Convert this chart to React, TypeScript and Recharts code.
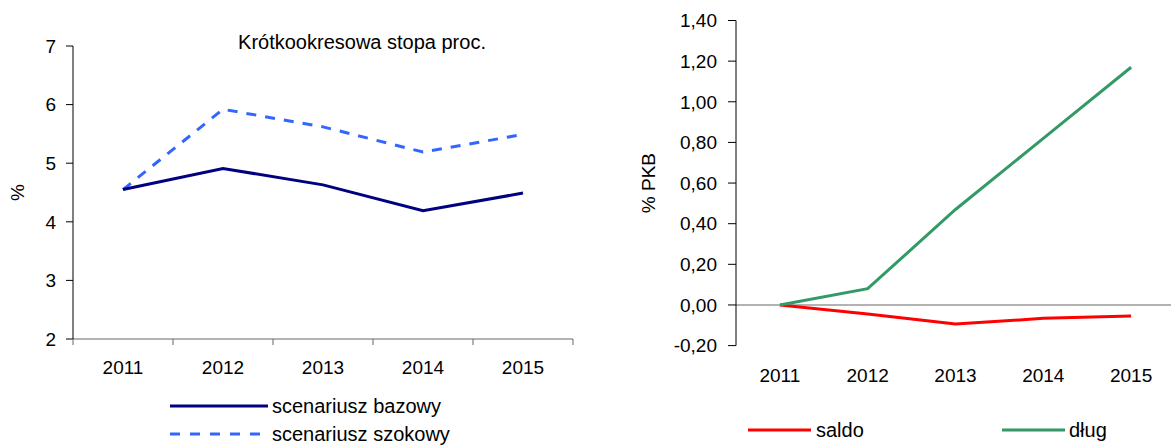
import React from 'react';
import { LineChart, Line, XAxis, YAxis } from 'recharts';

const YEARS = ['2011', '2012', '2013', '2014', '2015'];

// left panel: short-term interest rate, %
const BAZOWY = [4.55, 4.91, 4.63, 4.19, 4.49];
const SZOKOWY = [4.55, 5.92, 5.62, 5.19, 5.49];
const RATE_TICKS = [2, 3, 4, 5, 6, 7];

// right panel: % PKB
const SALDO = [0, -0.045, -0.094, -0.066, -0.054];
const DLUG = [0, 0.08, 0.47, 0.82, 1.17];
const PKB_TICKS = [-0.2, 0, 0.2, 0.4, 0.6, 0.8, 1.0, 1.2, 1.4];

const rateData = YEARS.map((year, i) => ({ i, year, bazowy: BAZOWY[i], szokowy: SZOKOWY[i] }));
const pkbData = YEARS.map((year, i) => ({ i, year, saldo: SALDO[i], dlug: DLUG[i] }));

// half steps are the category borders (tick marks), whole steps carry the year labels
const BORDERS = YEARS.map((_, i) => i - 0.5).concat(YEARS.length - 0.5);
const CENTERS = YEARS.map((_, i) => i);
const X_DOMAIN: [number, number] = [-0.5, YEARS.length - 0.5];

const NAVY = '#000080';
const LIGHT_BLUE = '#3366FF';
const RED = '#FF0000';
const GREEN = '#339966';
const AXIS_GREY = '#666666';
const FONT = 19;
const TEXT_FONT = 20;

const fmtPkb = (v: number) => v.toFixed(2).replace('.', ',');

function YearTick(props: any) {
  const { x, y, payload, labelOffset } = props;
  const v = payload.value;
  if (!Number.isInteger(v)) {
    return <line x1={x} x2={x} y1={y} y2={y + 6} stroke={AXIS_GREY} />;
  }
  return (
    <text x={x} y={y + labelOffset} textAnchor="middle" dominantBaseline="central" fontSize={FONT} fill="#000">
      {YEARS[v]}
    </text>
  );
}

function LegendItem({ x, y, color, dash, len, gap, label }: any) {
  return (
    <div style={{ position: 'absolute', left: x, top: y - 12, height: 24, display: 'flex', alignItems: 'center', whiteSpace: 'nowrap' }}>
      <svg width={len} height={6} style={{ display: 'block' }}>
        <line x1={0} x2={len} y1={3} y2={3} stroke={color} strokeWidth={3} strokeDasharray={dash} />
      </svg>
      <span style={{ marginLeft: gap, fontSize: TEXT_FONT }}>{label}</span>
    </div>
  );
}

export default function App() {
  return (
    <div
      style={{
        position: 'fixed',
        left: 0,
        top: 0,
        width: 1171,
        height: 446,
        overflow: 'hidden',
        background: '#fff',
        fontFamily: "'Liberation Sans', Arial, sans-serif",
        color: '#000',
      }}
    >
      {/* left: Krótkookresowa stopa proc. */}
      <div style={{ position: 'absolute', left: 0, top: 0 }}>
        <LineChart width={600} height={400} data={rateData} margin={{ top: 46, right: 27, bottom: 21, left: 13 }}>
          <XAxis
            type="number"
            dataKey="i"
            domain={X_DOMAIN}
            ticks={[...BORDERS, ...CENTERS].sort((a, b) => a - b)}
            interval={0}
            height={40}
            tickSize={0}
            tickMargin={0}
            tickLine={false}
            axisLine={{ stroke: AXIS_GREY }}
            tick={(p: any) => <YearTick {...p} labelOffset={28} />}
          />
          <YAxis
            domain={[2, 7]}
            ticks={RATE_TICKS}
            interval={0}
            width={60}
            tickSize={7}
            tickMargin={10}
            axisLine={{ stroke: '#000' }}
            tickLine={{ stroke: '#000' }}
            tick={{ fill: '#000', fontSize: FONT }}
            label={{ value: '%', angle: -90, position: 'insideLeft', offset: 4, style: { textAnchor: 'middle', fontSize: FONT, fill: '#000' } }}
          />
          <Line dataKey="szokowy" stroke={LIGHT_BLUE} strokeWidth={3} strokeDasharray="10 9" dot={false} isAnimationActive={false} />
          <Line dataKey="bazowy" stroke={NAVY} strokeWidth={3} dot={false} isAnimationActive={false} />
        </LineChart>
      </div>
      <div style={{ position: 'absolute', left: 362, top: 42, transform: 'translate(-50%, -50%)', whiteSpace: 'nowrap', fontSize: TEXT_FONT }}>
        Krótkookresowa stopa proc.
      </div>
      <LegendItem x={170} y={406} color={NAVY} len={98} gap={4} label="scenariusz bazowy" />
      <LegendItem x={170} y={434} color={LIGHT_BLUE} dash="10 10" len={90} gap={12} label="scenariusz szokowy" />

      {/* right: zero line with border ticks, drawn underneath */}
      <div style={{ position: 'absolute', left: 600, top: 0 }}>
        <LineChart width={600} height={400} data={pkbData} margin={{ top: 20.5, right: 25, bottom: 85, left: 136 }}>
          <XAxis
            type="number"
            dataKey="i"
            domain={X_DOMAIN}
            ticks={BORDERS}
            interval={0}
            height={10}
            tickSize={6}
            tick={false}
            tickLine={{ stroke: AXIS_GREY }}
            axisLine={{ stroke: AXIS_GREY }}
          />
          <YAxis hide domain={[0, 1]} />
        </LineChart>
      </div>
      <div style={{ position: 'absolute', left: 600, top: 0 }}>
        <LineChart width={600} height={400} data={pkbData} margin={{ top: 20.5, right: 25, bottom: 14.4, left: 66 }}>
          <XAxis
            type="number"
            dataKey="i"
            domain={X_DOMAIN}
            ticks={CENTERS}
            interval={0}
            height={40}
            tickSize={0}
            tickMargin={0}
            tickLine={false}
            axisLine={false}
            tick={(p: any) => <YearTick {...p} labelOffset={29.4} />}
          />
          <YAxis
            domain={[-0.2, 1.4]}
            ticks={PKB_TICKS}
            interval={0}
            width={70}
            tickSize={8}
            tickMargin={11}
            tickFormatter={fmtPkb}
            axisLine={{ stroke: '#000' }}
            tickLine={{ stroke: '#000' }}
            tick={{ fill: '#000', fontSize: FONT }}
            label={{ value: '% PKB', angle: -90, position: 'left', offset: 18, style: { textAnchor: 'middle', fontSize: FONT, fill: '#000' } }}
          />
          <Line dataKey="saldo" stroke={RED} strokeWidth={3} dot={false} isAnimationActive={false} />
          <Line dataKey="dlug" stroke={GREEN} strokeWidth={3} dot={false} isAnimationActive={false} />
        </LineChart>
      </div>
      <LegendItem x={748} y={430} color={RED} len={63} gap={5} label="saldo" />
      <LegendItem x={1002} y={430} color={GREEN} len={63} gap={4} label="dług" />
    </div>
  );
}
